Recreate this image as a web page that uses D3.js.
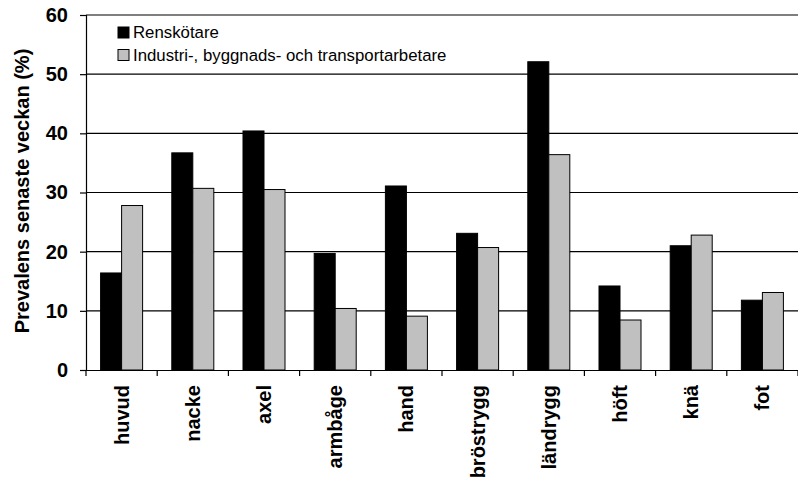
<!DOCTYPE html>
<html><head><meta charset="utf-8">
<script src="https://cdn.jsdelivr.net/npm/d3@7"></script>
<style>body{margin:0;background:#fff}svg{display:block}text{font-family:"Liberation Sans",Arial,sans-serif}</style>
</head><body>
<script>
const categories = ["huvud","nacke","axel","armbåge","hand","bröstrygg","ländrygg","höft","knä","fot"];
const seriesNames = ["Renskötare","Industri-, byggnads- och transportarbetare"];
const renskotare = [16.4, 36.7, 40.4, 19.7, 31.1, 23.1, 52.1, 14.2, 21.0, 11.8];
const industri   = [27.8, 30.7, 30.5, 10.4, 9.1, 20.7, 36.4, 8.45, 22.8, 13.1];
const yTicks = [0,10,20,30,40,50,60];
const colors = ["#000000","#c0c0c0"];

const W=798,H=483, L=86, R=798, T=15, B=370;
const svg=d3.select("body").append("svg").attr("width",W).attr("height",H);
const x=d3.scaleBand().domain(categories).range([L,R]);
const xs=d3.scaleBand().domain(seriesNames).range([0,x.bandwidth()]).paddingOuter(0.695);
const y=d3.scaleLinear().domain([0,60]).range([B,T]);

// gridlines
svg.append("g").selectAll("line").data(yTicks.filter(d=>d>0)).join("line")
  .attr("x1",L).attr("x2",R).attr("y1",d=>y(d)).attr("y2",d=>y(d))
  .attr("stroke","#000").attr("stroke-width",1.2);

// bars
const data=categories.map((c,i)=>({c,vals:[renskotare[i],industri[i]]}));
const g=svg.append("g").selectAll("g").data(data).join("g").attr("transform",d=>`translate(${x(d.c)},0)`);
g.selectAll("rect").data(d=>d.vals.map((v,j)=>({v,s:seriesNames[j],j}))).join("rect")
  .attr("x",d=>xs(d.s)).attr("width",xs.bandwidth())
  .attr("y",d=>y(d.v)).attr("height",d=>B-y(d.v))
  .attr("fill",d=>colors[d.j]).attr("stroke","#000").attr("stroke-width",1);

// y axis
const ya=svg.append("g").attr("transform",`translate(${L},0)`)
  .call(d3.axisLeft(y).tickValues(yTicks).tickSize(6).tickPadding(12));
ya.select(".domain").attr("stroke","#000").attr("stroke-width",1.2);
ya.selectAll("line").attr("stroke","#000").attr("stroke-width",1.2);
ya.selectAll("text").attr("font-size",20).attr("font-weight","bold").attr("fill","#000")
  .attr("font-family",'"Liberation Sans",Arial,sans-serif');

// x axis
const xa=svg.append("g").attr("transform",`translate(0,${B})`)
  .call(d3.axisBottom(x).tickSize(0).tickFormat(d=>d));
xa.select(".domain").attr("stroke","#000").attr("stroke-width",1.2);
xa.selectAll("text").attr("font-size",20).attr("font-weight","bold").attr("fill","#000")
  .attr("font-family",'"Liberation Sans",Arial,sans-serif')
  .attr("transform","rotate(-90)").attr("text-anchor","end")
  .attr("x",-15).attr("y",0).attr("dy","0.35em");
// category boundary ticks
const bounds=categories.map(c=>x(c)).concat([R]);
svg.append("g").selectAll("line").data(bounds).join("line")
  .attr("x1",d=>d).attr("x2",d=>d).attr("y1",B).attr("y2",B+6)
  .attr("stroke","#000").attr("stroke-width",1.2);

// y title
svg.append("text").attr("transform",`translate(29,${(47+335)/2}) rotate(-90)`)
  .attr("text-anchor","middle").attr("font-size",20).attr("font-weight","bold")
  .text("Prevalens senaste veckan (%)");

// legend
const lg=svg.append("g").selectAll("g").data(seriesNames).join("g")
  .attr("transform",(d,i)=>`translate(118,${32.5+i*22.5})`);
lg.append("rect").attr("x",0).attr("y",-5.5).attr("width",11).attr("height",11)
  .attr("fill",(d,i)=>colors[i]).attr("stroke","#000").attr("stroke-width",1);
lg.append("text").attr("x",15).attr("dy","0.35em").attr("font-size",16.8).text(d=>d);
</script>
</body></html>
